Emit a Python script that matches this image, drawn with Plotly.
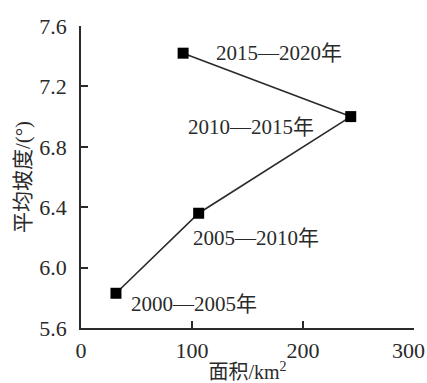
import plotly.graph_objects as go

area_km2 = [31.5, 106, 243, 92]
mean_slope = [5.83, 6.36, 7.0, 7.42]
periods = ["2000—2005年", "2005—2010年", "2010—2015年", "2015—2020年"]
x_ticks = [0, 100, 200, 300]
x_ticktext = ["0", "100", "200", "300\u00a0\u00a0"]

FONT = "Liberation Serif, Times New Roman, Noto Sans CJK SC, serif"
INK = "#2a2a2a"

fig = go.Figure()
fig.add_trace(go.Scatter(
    x=area_km2, y=mean_slope, mode="lines+markers",
    line=dict(color=INK, width=1.6),
    marker=dict(symbol="square", size=11, color="#000000"),
    showlegend=False, hoverinfo="skip",
))

# label offsets (pixels) relative to each point
offsets = [
    dict(xanchor="left", xshift=13, yshift=-11),
    dict(xanchor="left", xshift=-8, yshift=-25),
    dict(xanchor="right", xshift=-35, yshift=-10),
    dict(xanchor="left", xshift=31, yshift=0),
]
for xv, yv, txt, off in zip(area_km2, mean_slope, periods, offsets):
    fig.add_annotation(x=xv, y=yv, xref="x", yref="y", text=txt, showarrow=False,
                       yanchor="middle", font=dict(family=FONT, size=21, color=INK), **off)

axis_common = dict(
    showline=True, linecolor=INK, linewidth=1.5, mirror=False,
    ticks="inside", ticklen=7, tickwidth=1.5, tickcolor=INK,
    showgrid=False, zeroline=False,
    tickfont=dict(family=FONT, size=22, color=INK),
    ticklabeloverflow="allow",
)
fig.update_xaxes(range=[0, 300], tickvals=x_ticks, ticktext=x_ticktext,
                 ticklabelstandoff=2,
                 title=dict(text="面积/km<sup>2</sup>", font=dict(family=FONT, size=20, color=INK), standoff=3),
                 **axis_common)
fig.update_yaxes(range=[5.6, 7.6], tick0=5.6, dtick=0.4, tickformat=".1f",
                 ticklabelstandoff=8,
                 title=dict(text="平均坡度/(°)", font=dict(family=FONT, size=21, color=INK), standoff=3),
                 **axis_common)

fig.update_layout(
    width=427, height=383,
    margin=dict(l=81, r=13, t=26, b=55, autoexpand=False),
    paper_bgcolor="white", plot_bgcolor="white",
)
fig.write_html("out.html", config={"displayModeBar": False},
               post_script="document.body.style.margin='0';document.body.style.overflow='hidden';")
